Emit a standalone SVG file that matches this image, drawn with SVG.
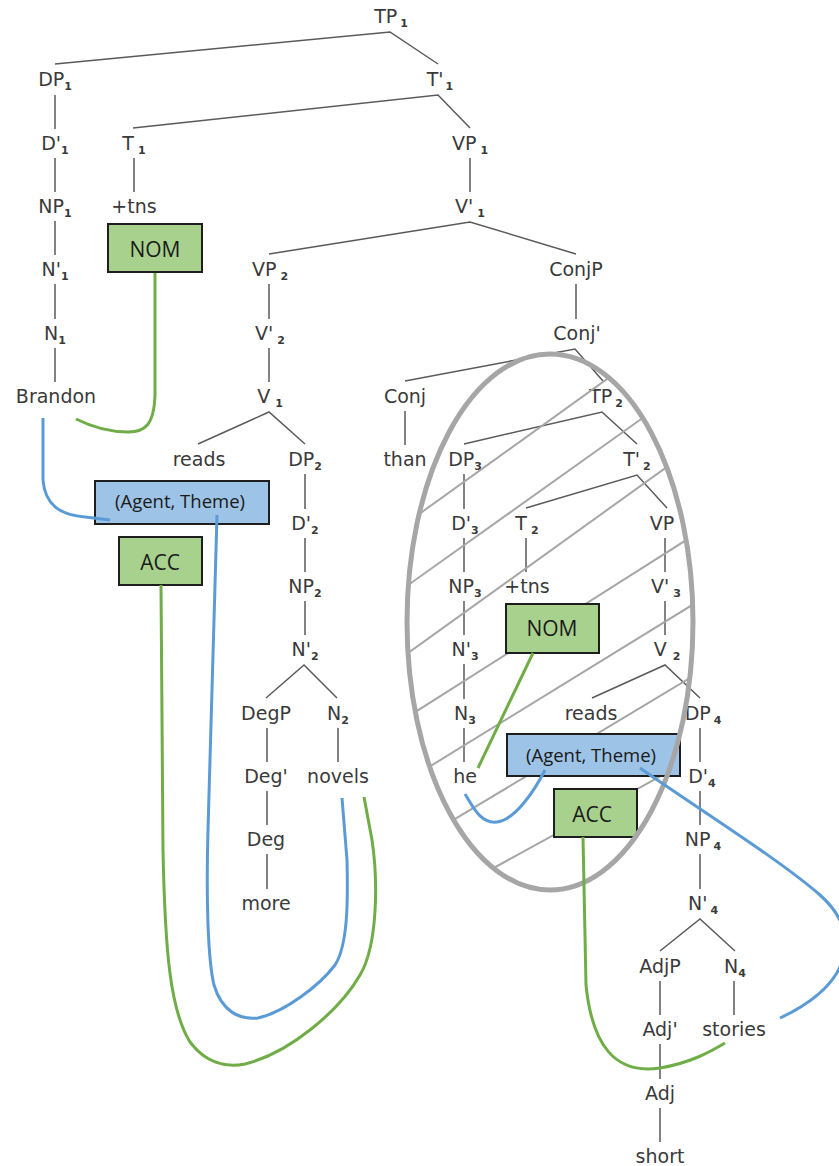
<svg xmlns="http://www.w3.org/2000/svg" width="839" height="1166" viewBox="0 0 839 1166">
<defs>
<style>
.lbl{font-family:"DejaVu Sans",Verdana,sans-serif;font-size:19px;fill:#3a3a3a;text-anchor:middle}
.sub{font-size:11px;font-weight:bold}
.edge{stroke:#5a5a5a;stroke-width:1.5;fill:none}
.hatch{stroke:#a6a6a6;stroke-width:2;fill:none}
.ell{stroke:#a6a6a6;stroke-width:5;fill:none}
.bg{fill:#a9d18e;stroke:#1e1e1e;stroke-width:2}
.bb{fill:#9dc3e6;stroke:#1e1e1e;stroke-width:2}
.bt{font-family:"Open Sans",sans-serif;fill:#1a1a1a;text-anchor:middle}
.green{stroke:#70ad47;stroke-width:3;fill:none}
.blue{stroke:#5b9bd5;stroke-width:3;fill:none}
</style>
<clipPath id="ellclip"><ellipse cx="550" cy="622" rx="143" ry="268"/></clipPath>
</defs>
<rect width="839" height="1166" fill="#ffffff"/>

<g id="connectors">
<!-- branch lines -->
<path class="edge" d="M55,64 L390,32 L438,64"/>
<path class="edge" d="M133,128 L438,95 L470,128"/>
<path class="edge" d="M269,254 L470,222 L576,254"/>
<path class="edge" d="M405,381 L575,349 L603,381"/>
<path class="edge" d="M198,444 L269,412 L305,444"/>
<path class="edge" d="M464,444 L602,412 L637,444"/>
<path class="edge" d="M526,508 L637,475 L667,508"/>
<path class="edge" d="M266,698 L304,665 L337,698"/>
<path class="edge" d="M592,698 L665,665 L700,698"/>
<path class="edge" d="M660,951 L700,919 L735,951"/>
<!-- verticals -->
<path class="edge" d="M55,95V129M55,158V192M55,221V255M55,284V319M55,348V382"/>
<path class="edge" d="M134,158V192M470,158V192"/>
<path class="edge" d="M269,284V319M269,348V382M576,284V319M405,411V445"/>
<path class="edge" d="M305,474V509M305,538V572M305,601V635"/>
<path class="edge" d="M464,474V509M464,538V572M464,601V635M464,664V699M464,728V762"/>
<path class="edge" d="M526,538V572M665,538V572M665,601V635"/>
<path class="edge" d="M267,728V762M267,791V825M267,854V889M338,728V762"/>
<path class="edge" d="M700,728V762M700,791V825M700,854V889"/>
<path class="edge" d="M660,981V1015M660,1044V1079M660,1108V1142M734,981V1015"/>
</g>

<g id="nodes">
<g id="n-TP1"><text class="lbl" x="391" y="23">TP<tspan class="sub" dx="3" dy="4">1</tspan></text></g>
<g id="n-DP1"><text class="lbl" x="55" y="86">DP<tspan class="sub" dy="4">1</tspan></text></g>
<g id="n-T1bar"><text class="lbl" x="440" y="86">T'<tspan class="sub" dx="2" dy="4">1</tspan></text></g>
<g id="n-D1bar"><text class="lbl" x="55" y="150">D'<tspan class="sub" dy="4">1</tspan></text></g>
<g id="n-T1"><text class="lbl" x="134" y="150">T<tspan class="sub" dx="4" dy="4">1</tspan></text></g>
<g id="n-VP1"><text class="lbl" x="470" y="150">VP<tspan class="sub" dx="4" dy="4">1</tspan></text></g>
<g id="n-NP1"><text class="lbl" x="55" y="213">NP<tspan class="sub" dy="4">1</tspan></text></g>
<g id="n-tns1"><text class="lbl" x="134" y="213">+tns</text></g>
<g id="n-V1bar"><text class="lbl" x="470" y="213">V'<tspan class="sub" dx="4" dy="4">1</tspan></text></g>
<g id="n-N1bar"><text class="lbl" x="55" y="276">N'<tspan class="sub" dy="4">1</tspan></text></g>
<g id="n-VP2"><text class="lbl" x="270" y="276">VP<tspan class="sub" dx="4" dy="4">2</tspan></text></g>
<g id="n-ConjP"><text class="lbl" x="576" y="276">ConjP</text></g>
<g id="n-N1"><text class="lbl" x="55" y="340">N<tspan class="sub" dy="4">1</tspan></text></g>
<g id="n-V2bar"><text class="lbl" x="270" y="340">V'<tspan class="sub" dx="4" dy="4">2</tspan></text></g>
<g id="n-Conjbar"><text class="lbl" x="577" y="340">Conj'</text></g>
<g id="n-Brandon"><text class="lbl" x="56" y="403">Brandon</text></g>
<g id="n-V1"><text class="lbl" x="270" y="403">V<tspan class="sub" dx="5" dy="4">1</tspan></text></g>
<g id="n-Conj"><text class="lbl" x="405" y="403">Conj</text></g>
<g id="n-TP2"><text class="lbl" x="606" y="403">TP<tspan class="sub" dx="3" dy="4">2</tspan></text></g>
<g id="n-reads1"><text class="lbl" x="199" y="466">reads</text></g>
<g id="n-DP2"><text class="lbl" x="305" y="466">DP<tspan class="sub" dy="4">2</tspan></text></g>
<g id="n-than"><text class="lbl" x="405" y="466">than</text></g>
<g id="n-DP3"><text class="lbl" x="465" y="466">DP<tspan class="sub" dy="4">3</tspan></text></g>
<g id="n-T2bar"><text class="lbl" x="637" y="466">T'<tspan class="sub" dx="3" dy="4">2</tspan></text></g>
<g id="n-D2bar"><text class="lbl" x="305" y="530">D'<tspan class="sub" dy="4">2</tspan></text></g>
<g id="n-D3bar"><text class="lbl" x="465" y="530">D'<tspan class="sub" dy="4">3</tspan></text></g>
<g id="n-T2"><text class="lbl" x="527" y="530">T<tspan class="sub" dx="4" dy="4">2</tspan></text></g>
<g id="n-VP"><text class="lbl" x="662" y="530">VP</text></g>
<g id="n-NP2"><text class="lbl" x="305" y="593">NP<tspan class="sub" dy="4">2</tspan></text></g>
<g id="n-NP3"><text class="lbl" x="465" y="593">NP<tspan class="sub" dy="4">3</tspan></text></g>
<g id="n-tns2"><text class="lbl" x="527" y="593">+tns</text></g>
<g id="n-V3bar"><text class="lbl" x="666" y="593">V'<tspan class="sub" dx="4" dy="4">3</tspan></text></g>
<g id="n-N2bar"><text class="lbl" x="305" y="656">N'<tspan class="sub" dy="4">2</tspan></text></g>
<g id="n-N3bar"><text class="lbl" x="465" y="656">N'<tspan class="sub" dy="4">3</tspan></text></g>
<g id="n-V2"><text class="lbl" x="667" y="656">V<tspan class="sub" dx="6" dy="4">2</tspan></text></g>
<g id="n-DegP"><text class="lbl" x="266" y="720">DegP</text></g>
<g id="n-N2"><text class="lbl" x="338" y="720">N<tspan class="sub" dy="4">2</tspan></text></g>
<g id="n-N3"><text class="lbl" x="465" y="720">N<tspan class="sub" dy="4">3</tspan></text></g>
<g id="n-reads2"><text class="lbl" x="591" y="720">reads</text></g>
<g id="n-DP4"><text class="lbl" x="703" y="720">DP<tspan class="sub" dx="3" dy="4">4</tspan></text></g>
<g id="n-Degbar"><text class="lbl" x="266" y="783">Deg'</text></g>
<g id="n-novels"><text class="lbl" x="338" y="783">novels</text></g>
<g id="n-he"><text class="lbl" x="465" y="783">he</text></g>
<g id="n-D4bar"><text class="lbl" x="702" y="783">D'<tspan class="sub" dy="4">4</tspan></text></g>
<g id="n-Deg"><text class="lbl" x="266" y="846">Deg</text></g>
<g id="n-NP4"><text class="lbl" x="703" y="846">NP<tspan class="sub" dx="3" dy="4">4</tspan></text></g>
<g id="n-more"><text class="lbl" x="266" y="910">more</text></g>
<g id="n-N4bar"><text class="lbl" x="703" y="910">N'<tspan class="sub" dx="3" dy="4">4</tspan></text></g>
<g id="n-AdjP"><text class="lbl" x="660" y="973">AdjP</text></g>
<g id="n-N4"><text class="lbl" x="735" y="973">N<tspan class="sub" dy="4">4</tspan></text></g>
<g id="n-Adjbar"><text class="lbl" x="660" y="1036">Adj'</text></g>
<g id="n-stories"><text class="lbl" x="734" y="1036">stories</text></g>
<g id="n-Adj"><text class="lbl" x="660" y="1100">Adj</text></g>
<g id="n-short"><text class="lbl" x="660" y="1163">short</text></g>
</g>

<g id="ellipse-hatch" clip-path="url(#ellclip)">
<line class="hatch" x1="390" y1="535" x2="710" y2="305"/>
<line class="hatch" x1="390" y1="598" x2="710" y2="370"/>
<line class="hatch" x1="390" y1="666" x2="710" y2="436"/>
<line class="hatch" x1="390" y1="728" x2="710" y2="525"/>
<line class="hatch" x1="390" y1="791" x2="710" y2="594"/>
<line class="hatch" x1="390" y1="858" x2="710" y2="666"/>
<line class="hatch" x1="390" y1="925" x2="710" y2="749"/>
</g>

<g id="box-NOM1"><rect class="bg" x="108" y="224" width="94" height="48"/><text class="bt" x="155" y="257" font-size="21">NOM</text></g>
<g id="box-AT1"><rect class="bb" x="95" y="481" width="174" height="43"/><text class="bt" x="180" y="508" font-size="18.5">(Agent, Theme)</text></g>
<g id="box-ACC1"><rect class="bg" x="119" y="537" width="83" height="48"/><text class="bt" x="160" y="570" font-size="21">ACC</text></g>
<g id="box-NOM2"><rect class="bg" x="506" y="604" width="93" height="49"/><text class="bt" x="552" y="636" font-size="21">NOM</text></g>
<g id="box-AT2"><rect class="bb" x="507" y="734" width="173" height="42"/><text class="bt" x="591" y="762" font-size="18.5">(Agent, Theme)</text></g>
<g id="box-ACC2"><rect class="bg" x="554" y="789" width="83" height="48"/><text class="bt" x="592" y="822" font-size="21">ACC</text></g>

<g id="ellipse"><ellipse class="ell" cx="550" cy="622" rx="143" ry="268"/></g>

<g id="links">
<path class="green" d="M155,273 L155,395 C154,425 145,432 128,432 C110,432 90,426 76,419"/>
<path class="blue" d="M43,418 L43,480 C45,505 60,515 85,517 L110,520"/>
<path class="blue" d="M217,515 L208,830 C206,900 208,960 214,985 C222,1012 240,1020 258,1018 C285,1012 320,985 335,965 C348,945 348,900 347,860 L342,798"/>
<path class="green" d="M161,585 L163,850 C165,950 170,1010 190,1042 C205,1062 225,1068 245,1064 C290,1053 340,1010 360,975 C378,945 378,880 372,840 L364,797"/>
<path class="green" d="M533,653 L478,768"/>
<path class="blue" d="M545,770 C535,790 515,820 497,822 C480,824 472,805 465,794"/>
<path class="blue" d="M640,768 C700,810 780,860 820,895 C865,935 850,985 780,1018"/>
<path class="green" d="M583,837 L586,985 C592,1045 615,1075 660,1068 C690,1063 710,1052 725,1043"/>
</g>
</svg>
